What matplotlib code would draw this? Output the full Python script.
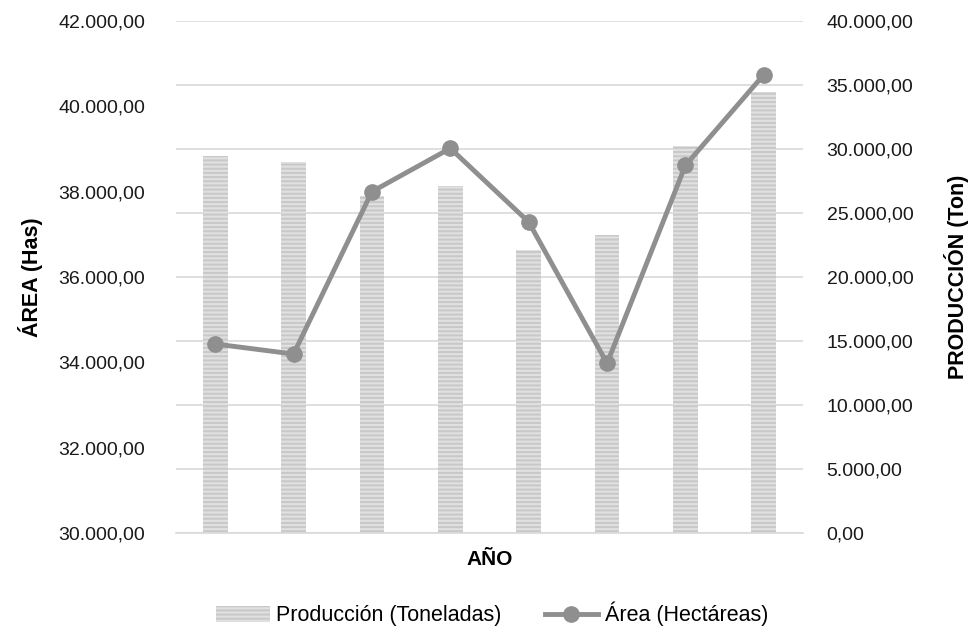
import matplotlib
matplotlib.use("Agg")
import matplotlib.pyplot as plt
from matplotlib.ticker import FuncFormatter, MultipleLocator
from matplotlib.patches import Patch
from matplotlib.lines import Line2D

# ---- data ----
categories = [1, 2, 3, 4, 5, 6, 7, 8]          # years (no labels shown in the reference)
produccion_ton = [29450, 29000, 26330, 27085, 22110, 23280, 30230, 34480]
area_has = [34430, 34195, 38000, 39016, 37290, 33977, 38617, 40742]

series_bar_label = "Producción (Toneladas)"
series_line_label = "Área (Hectáreas)"
left_label = "ÁREA (Has)"
right_label = "PRODUCCIÓN (Ton)"
x_label = "AÑO"

plt.rcParams['font.family'] = ['Liberation Sans', 'DejaVu Sans']
plt.rcParams['hatch.linewidth'] = 1.4

BAR_FACE = '#e0e0e0'
BAR_HATCH = '#c8c8c8'
LINE_COLOR = '#8f8f8f'


def fmt(v, pos=None):
    s = f"{v:,.2f}"
    return s.replace(',', 'X').replace('.', ',').replace('X', '.')


fig = plt.figure(figsize=(9.71, 6.40), dpi=100)
ax = fig.add_axes([176 / 971, 1 - 533 / 640, (803 - 176) / 971, (533 - 21) / 640])
ax2 = ax.twinx()

x = list(range(len(categories)))

# bars on primary axis (right-hand scale: production)
ax.bar(x, produccion_ton, width=0.315, color=BAR_FACE, edgecolor=BAR_HATCH,
       hatch='----', linewidth=0, zorder=2)
ax.set_ylim(0, 40000)
ax.set_xlim(-0.5, len(categories) - 0.5)
ax.yaxis.set_major_locator(MultipleLocator(5000))
ax.yaxis.set_major_formatter(FuncFormatter(fmt))
ax.grid(axis='y', color='#d9d9d9', linewidth=1.2, zorder=0)
ax.set_axisbelow(True)
ax.set_xticks([])
for sp in ['top', 'left', 'right']:
    ax.spines[sp].set_visible(False)
ax.spines['bottom'].set_color('#d9d9d9')
ax.spines['bottom'].set_linewidth(1.2)
ax.set_xlabel(x_label, fontsize=15, fontweight='bold', labelpad=12)

# line on twin axis (left-hand scale: area)
ax2.plot(x, area_has, color=LINE_COLOR, linewidth=3.5, marker='o', markersize=11,
         zorder=3)
ax2.set_ylim(30000, 42000)
ax2.yaxis.set_major_locator(MultipleLocator(2000))
ax2.yaxis.set_major_formatter(FuncFormatter(fmt))
for sp in ax2.spines.values():
    sp.set_visible(False)

# place scales: production on the right, area on the left
ax.yaxis.tick_right()
ax.yaxis.set_label_position('right')
ax2.yaxis.tick_left()
ax2.yaxis.set_label_position('left')
ax.tick_params(axis='y', which='both', left=False, right=False, labelleft=False,
               labelright=True, length=0, pad=17, labelsize=14, labelcolor='#1a1a1a')
ax2.tick_params(axis='y', which='both', left=False, right=False, labelleft=True,
                labelright=False, length=0, pad=22, labelsize=14, labelcolor='#1a1a1a')
ax.set_ylabel(right_label, fontsize=15.5, fontweight='bold', labelpad=22)
ax2.set_ylabel(left_label, fontsize=15.5, fontweight='bold', labelpad=11)

handles = [
    Patch(facecolor=BAR_FACE, edgecolor=BAR_HATCH, hatch='----', linewidth=0),
    Line2D([0], [0], color=LINE_COLOR, linewidth=3.5, marker='o', markersize=11),
]
fig.legend(handles, [series_bar_label, series_line_label], loc='center',
           bbox_to_anchor=(492 / 971, 1 - 614 / 640), ncol=2, frameon=False,
           fontsize=15.5, handlelength=2.5, handleheight=0.75, columnspacing=2.0,
           handletextpad=0.3)

fig.savefig("out.png", dpi=100)
